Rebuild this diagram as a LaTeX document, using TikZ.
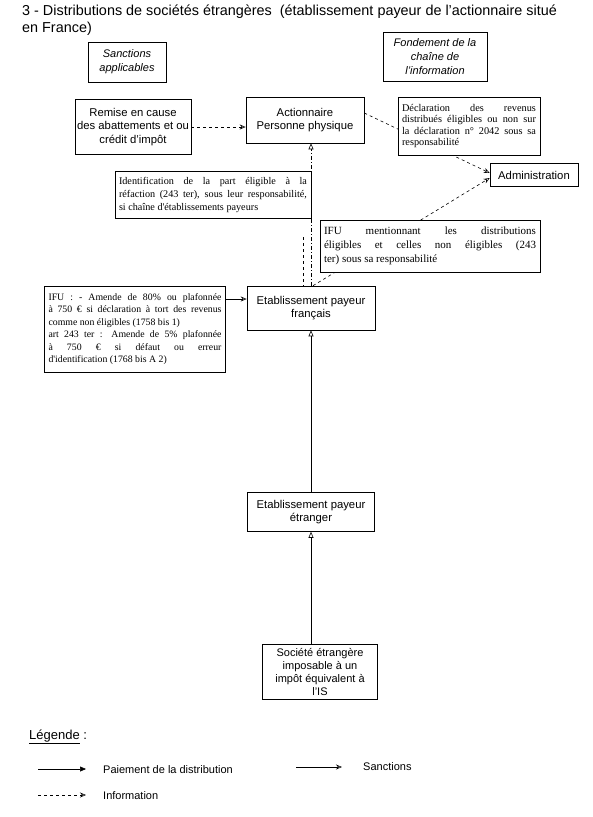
\documentclass[tikz,border=0pt]{standalone}
\usepackage{fontspec}
\setmainfont{Liberation Sans}
\newfontfamily\tms{Liberation Serif}
\usetikzlibrary{arrows.meta,calc,backgrounds}
\begin{document}
\begin{tikzpicture}[x=1pt,y=-1pt,
 box/.style={draw, fill=white, line width=0.6pt, align=center, inner sep=1pt, font=\fontsize{11.3}{13.5}\selectfont},
 ibox/.style={box, font=\itshape\fontsize{11}{14}\selectfont},
 jbox/.style={draw, fill=white, line width=0.6pt, align=justify, inner sep=4pt, font=\tms\fontsize{10.2}{13}\selectfont},
 pay/.style={line width=0.6pt, -{Triangle[open,length=6pt,width=5pt]}},
 payleg/.style={line width=0.6pt, -{Triangle[length=6pt,width=5pt]}},
 sanc/.style={line width=0.6pt, -{Stealth[open,length=6pt,width=5pt]}},
 info/.style={line width=0.6pt, dashed, -{Stealth[open,length=6pt,width=5pt]}},
 infotri/.style={line width=0.6pt, dash pattern=on 4pt off 2pt on 1pt off 2pt, -{Triangle[open,length=6pt,width=5pt]}},
 legtext/.style={anchor=west, inner sep=0pt, font=\fontsize{11}{13}\selectfont},
]
\useasboundingbox (0,0) rectangle (593,817);

% title
\node[anchor=north west, align=left, inner sep=0pt, font=\fontsize{14.4}{17}\selectfont] (title) at (22,5)
 {3 - Distributions de sociétés étrangères~ (établissement payeur de l'actionnaire situé\\en France)};

% header boxes
\node[ibox, minimum width=78pt, minimum height=40pt] (sanctions) at (127,62) {Sanctions\\applicables};
\node[ibox, minimum width=104pt, minimum height=49pt] (fond) at (435,57) {Fondement de la\\chaîne de\\l'information};

% main boxes
\node[box, minimum width=116pt, minimum height=55pt] (remise) at (133,127) {Remise en cause\\des abattements et ou\\crédit d'impôt};
\node[box, minimum width=118pt, minimum height=46pt] (action) at (305,120) {Actionnaire\\Personne physique};
\node[jbox, text width=134pt, minimum height=58pt, font=\tms\fontsize{10.3}{11.5}\selectfont] (decl) at (469,126)
 {Déclaration des revenus\linebreak distribués éligibles ou non sur\linebreak la déclaration n° 2042 sous sa\linebreak responsabilité};
\node[box, minimum width=88pt, minimum height=23pt] (admin) at (534,175) {Administration};
\node[jbox, text width=188pt, minimum height=47pt] (ident) at (213,195)
 {Identification de la part éligible à la\linebreak réfaction (243 ter), sous leur responsabilité,\linebreak si chaîne d'établissements payeurs};
\node[jbox, text width=212pt, minimum height=52pt, font=\tms\fontsize{11}{13.8}\selectfont] (ifu) at (430,246)
 {IFU mentionnant les distributions\linebreak éligibles et celles non éligibles (243\linebreak ter) sous sa responsabilité};
\node[jbox, text width=173pt, minimum height=86pt, font=\tms\fontsize{9.8}{12.4}\selectfont] (ifusanc) at (135,329)
 {IFU : - Amende de 80\% ou plafonnée\linebreak à 750 € si déclaration à tort des revenus\linebreak comme non éligibles (1758 bis 1)\\
 art 243 ter : Amende de 5\% plafonnée\linebreak à 750 € si défaut ou erreur\linebreak d'identification (1768 bis A 2)};
\node[box, minimum width=128pt, minimum height=44pt] (etabfr) at (311,308) {Etablissement payeur\\français};
\node[box, minimum width=127pt, minimum height=39pt] (etabet) at (311,512) {Etablissement payeur\\étranger};
\node[box, minimum width=115pt, minimum height=55pt, font=\fontsize{11}{13}\selectfont] (soc) at (320,672) {Société étrangère\\imposable à un\\impôt équivalent à\\l'IS};

% connectors
\coordinate (c1) at (303,237);
\coordinate (tip) at ($(etabfr.west)+(0,-9)$);
\begin{scope}[on background layer]
\draw[info] (remise.east) -- (remise.east -| action.west);
\draw[info] ($(action.east)+(0,-7)$) -- ($(admin.west)+(0,-2)$);
\draw[info] ($(etabfr.north)+(2,0)$) -- ($(admin.west)+(0,3)$);
\draw[infotri] (etabfr.north) -- (etabfr.north |- action.south);
\draw[line width=0.6pt, dashed] (c1) -- (c1 |- etabfr.north);
\draw[sanc] (ifusanc.east |- tip) -- (tip);
\draw[pay] (etabet.north) -- (etabfr.south);
\draw[pay] (etabet.south |- soc.north) -- (etabet.south);
\end{scope}

% legend
\node[anchor=west, inner sep=0pt, font=\fontsize{13}{15}\selectfont] (leg) at (29,737) {\underline{Légende} :};
\coordinate (p1) at (38,769); \coordinate (p2) at (86,769);
\draw[payleg] (p1) -- (p2);
\node[legtext] (pt) at (103,770) {Paiement de la distribution};
\coordinate (s1) at (296,767); \coordinate (s2) at (342,767);
\draw[sanc] (s1) -- (s2);
\node[legtext] (st) at (363,767) {Sanctions};
\coordinate (i1) at (38,795); \coordinate (i2) at (86,795);
\draw[info] (i1) -- (i2);
\node[legtext] (it) at (103,796) {Information};
\end{tikzpicture}
\end{document}
